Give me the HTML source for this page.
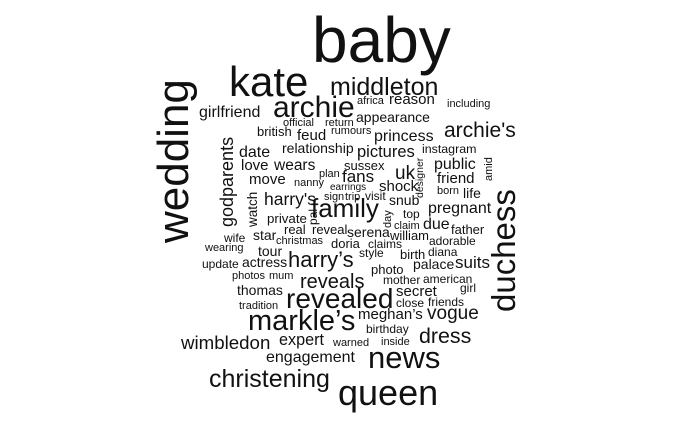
<!DOCTYPE html>
<html><head><meta charset="utf-8"><style>
html,body{margin:0;padding:0;background:#fff;}
svg{display:block;}
text{font-family:"Liberation Sans",Arial,sans-serif;fill:#111;}
</style></head><body>
<svg id="cloud" width="700" height="432" viewBox="0 0 700 432"></svg>
<script>
const words=["baby","kate","middleton","archie","girlfriend","wedding","official","return","british","feud","rumours","africa","reason","including","appearance","princess","archie's","relationship","pictures","instagram","godparents","date","love","wears","sussex","uk","designer","public","friend","amid","born","life","move","nanny","plan","fans","earrings","shock","sign","trip","visit","snub","harry's","watch","family","private","pal","day","top","pregnant","claim","due","father","serena","william","real","reveal","duchess","wife","star","christmas","wearing","tour","doria","claims","update","actress","harry’s","style","birth","diana","palace","suits","photos","mum","reveals","photo","thomas","mother","american","girl","revealed","tradition","secret","close","friends","markle’s","meghan’s","vogue","birthday","inside","warned","wimbledon","expert","dress","engagement","news","christening","queen","adorable"];
const sizes=[64,42,25,30,16,44,11,11,13,15,11,11,15,11,14,16,21,14,16.5,12.4,18,16,15,15.5,13,19,10.5,16,15,11,11,14,15,11,11,17,10,15,11,11,12,14,17.5,13.5,26,13.3,12,11,12,16,11,16,13,14,13,13,13,33,12,14,11,11,14,13,12,12,14,22,12,13,12,14,17,11,11,20,13,14,12,12,12,28,11,15,12,12,29,15,19,12,11,11,18.7,16.2,21.4,16,31,25,36,12];
const xs=[312,229,330,273,199,188,283,325,257,297,331,357,389,447,356,374,444,282,357,422,233,239,241,274,344,395,423,434,437,492,437,463,249,294,319,342,330,379,324,345,365,389,264,257,311,267,317,391,403,428,394,423,451,347,390,284,312,515,224,253,276,205,258,331,368,202,242,288,359,400,428,413,455,232,269,300,371,237,383,423,460,286,239,396,396,428,248,358,427,366,381,333,181,279,419,266,368,209,338,429];
const ys=[62,96,95,117,117,243,126,126,136,140,134,104,104,107,122,141,137,153,157,153,227,157,170,170,170,179,198,169,183,181,194,198,184,186,177,182,190,191,200,200,200,205,205,227,217,223,225,228,218,213,229,229,234,237,240,234,234,312,242,240,244,251,256,248,248,268,267,267,257,259,256,269,268,279,279,288,274,295,284,283,292,308,309,296,307,306,330,319,319,333,345,346,349,345,343,362,368,387,405,245];
const rots=[0,0,0,0,0,-90,0,0,0,0,0,0,0,0,0,0,0,0,0,0,-90,0,0,0,0,0,-90,0,0,-90,0,0,0,0,0,0,0,0,0,0,0,0,0,-90,0,0,-90,-90,0,0,0,0,0,0,0,0,0,-90,0,0,0,0,0,0,0,0,0,0,0,0,0,0,0,0,0,0,0,0,0,0,0,0,0,0,0,0,0,0,0,0,0,0,0,0,0,0,0,0,0,0];
const svg=document.getElementById('cloud');
const NS='http://www.w3.org/2000/svg';
words.forEach((w,i)=>{
  const t=document.createElementNS(NS,'text');
  t.setAttribute('x',xs[i]);
  t.setAttribute('y',ys[i]);
  t.setAttribute('font-size',sizes[i]);
  if(rots[i]) t.setAttribute('transform','rotate('+rots[i]+' '+xs[i]+' '+ys[i]+')');
  t.textContent=w;
  
  
  svg.appendChild(t);
});
</script>
</body></html>
